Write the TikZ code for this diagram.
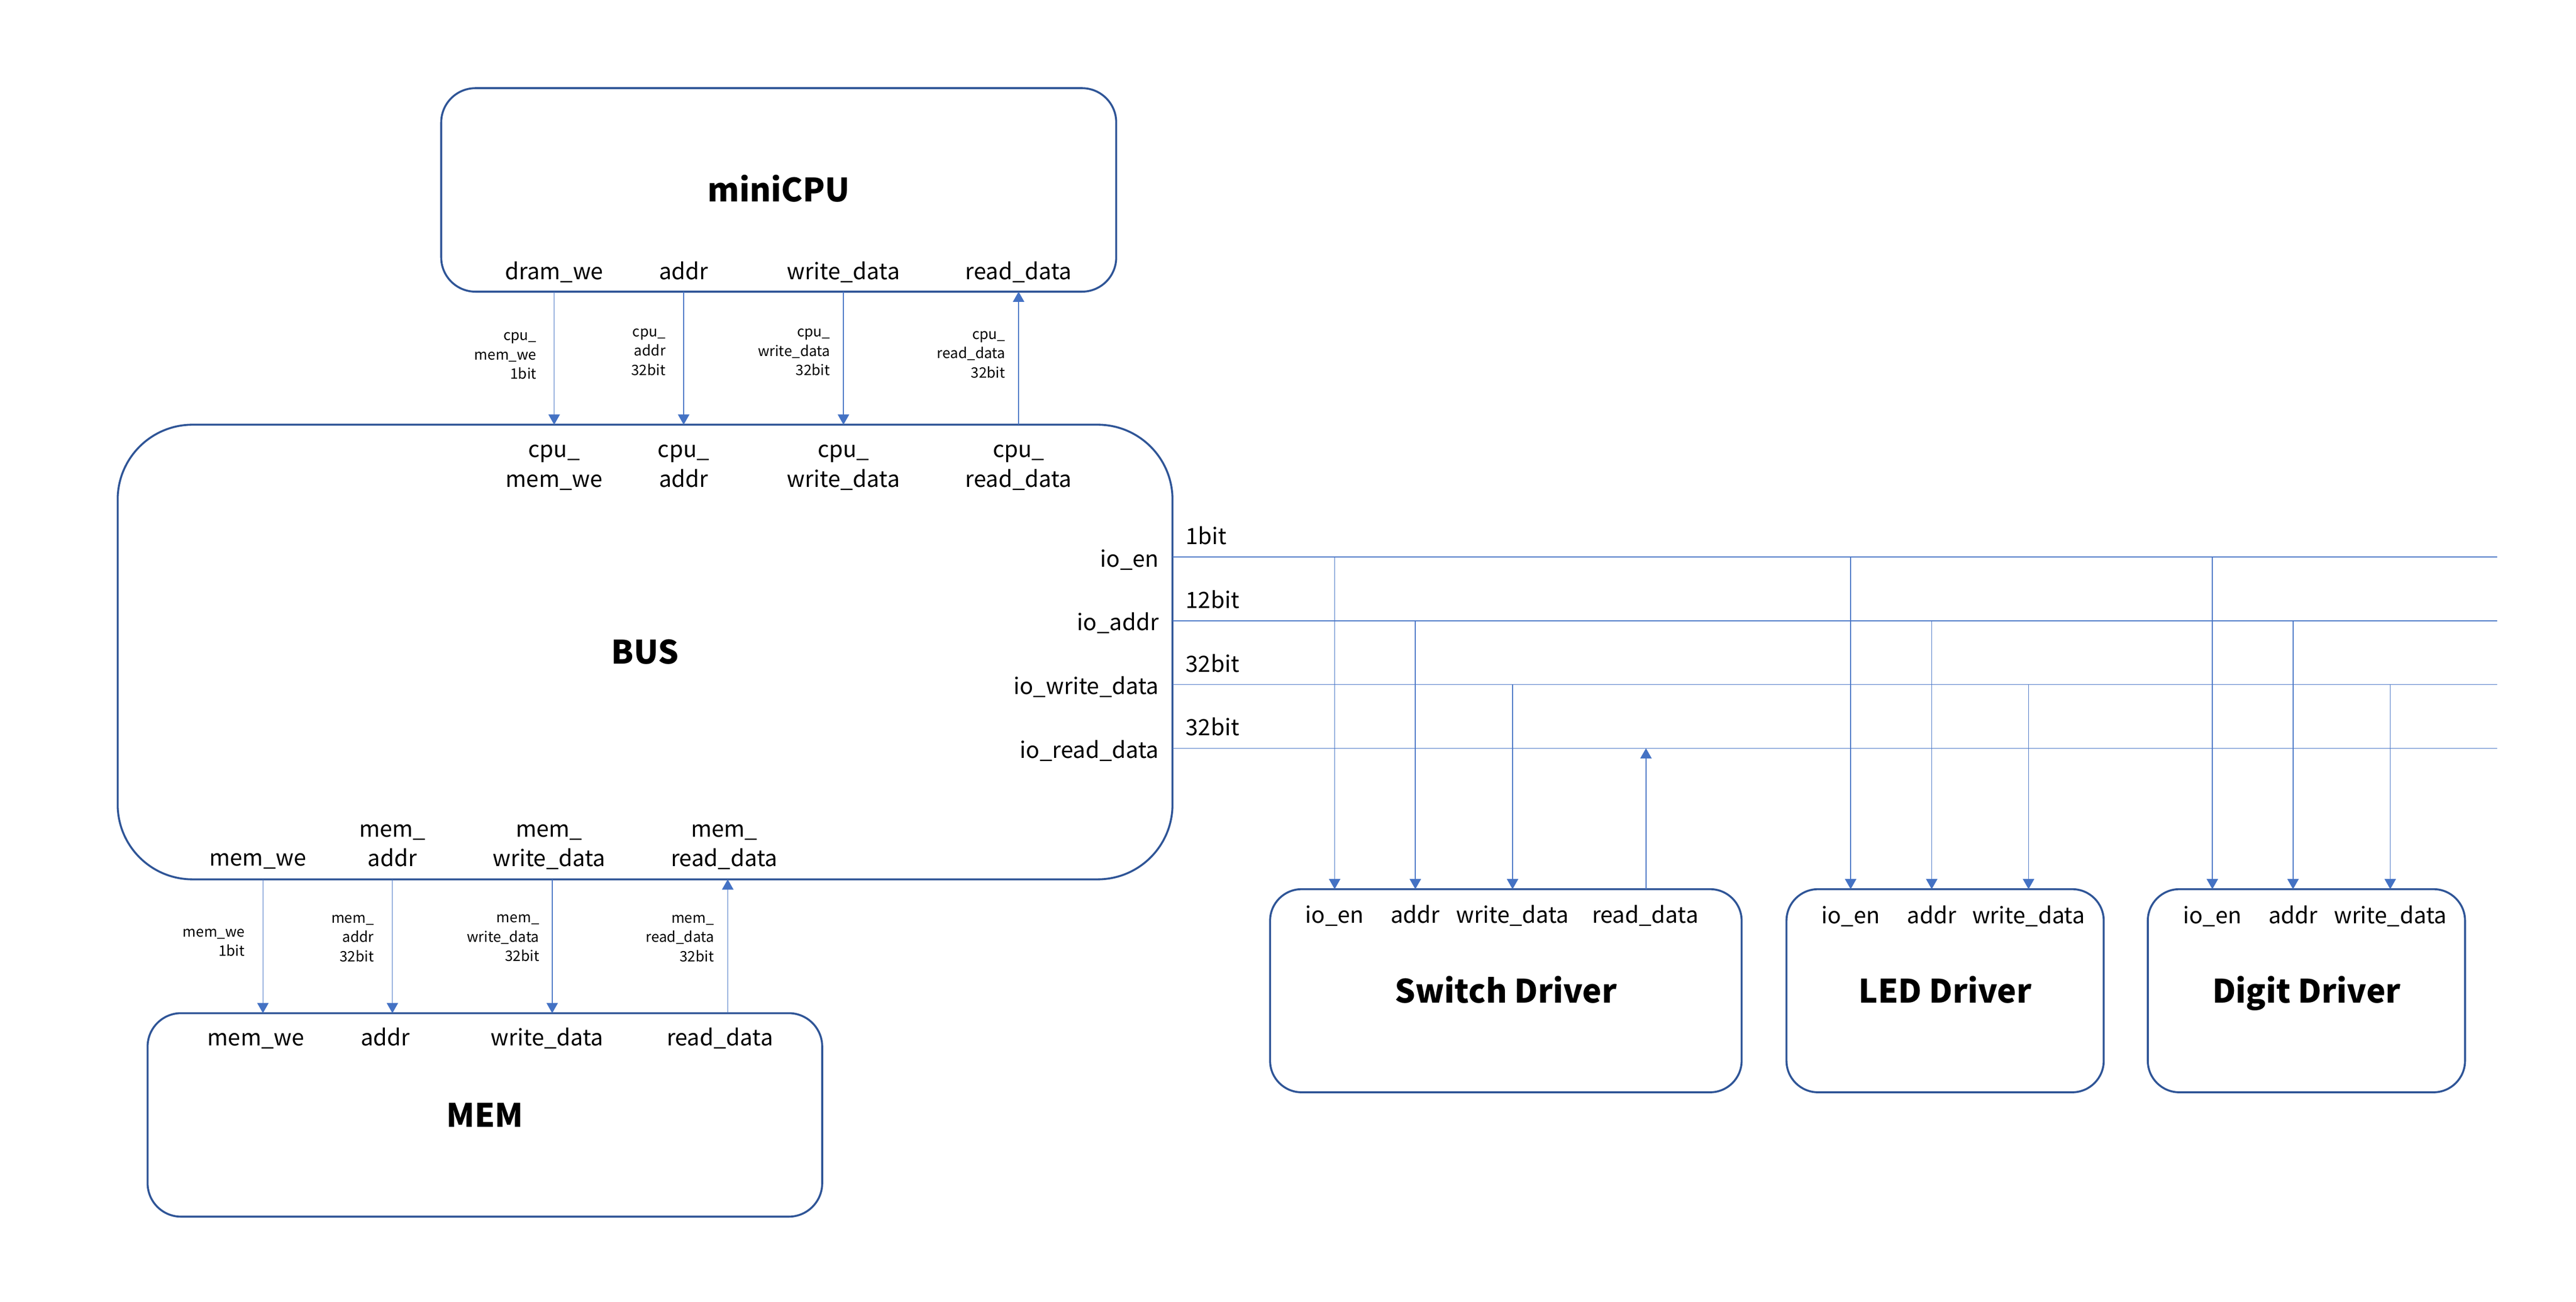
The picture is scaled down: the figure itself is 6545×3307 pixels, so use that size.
\documentclass[tikz,border=0pt]{standalone}
\usepackage{fontspec}
\setmainfont{Noto Sans CJK SC}
\usetikzlibrary{arrows.meta}
\definecolor{boxblue}{HTML}{2F5597}
\definecolor{linkblue}{HTML}{4472C4}
\newcommand\portfont{\fontsize{57}{75}\selectfont}
\newcommand\edgefont{\fontsize{36.5}{49}\selectfont}
\newcommand\titlefont{\fontsize{82}{100}\selectfont\bfseries}
\newcommand\mlc[1]{\begin{tabular}[t]{@{}c@{}}#1\end{tabular}}
\newcommand\mlr[1]{\begin{tabular}[t]{@{}r@{}}#1\end{tabular}}
\tikzset{
  blockbox/.style={draw=boxblue, line width=5pt, rounded corners=#1, inner sep=0pt, outer sep=0pt,
    font=\titlefont, text height=61pt, text depth=0pt, align=center},
  port/.style={font=\portfont, inner sep=0pt, outer sep=0pt, anchor=base},
  portr/.style={port, anchor=base east},
  portl/.style={port, anchor=base west},
  edgelab/.style={font=\edgefont, inner sep=0pt, outer sep=0pt, anchor=base east},
  wire/.style={draw=linkblue, line width=2pt},
  arr/.style={wire, -{Triangle[width=29pt,length=26pt]}},
}
\begin{document}
\begin{tikzpicture}[x=1pt,y=-1pt]
\useasboundingbox (0,0) rectangle (6545,3307);
% blocks
\node[blockbox=87, minimum width=1715pt, minimum height=517pt] (cpu) at (1978.5,482.5) {miniCPU};
\node[blockbox=190, minimum width=2680pt, minimum height=1155pt] (bus) at (1639,1656.5) {BUS};
\node[blockbox=85, minimum width=1714pt, minimum height=517pt] (mem) at (1232,2832.5) {MEM};
\node[blockbox=80, minimum width=1198pt, minimum height=516pt] (sw) at (3826,2517) {Switch Driver};
\node[blockbox=80, minimum width=806pt, minimum height=516pt] (led) at (4942,2517) {LED Driver};
\node[blockbox=80, minimum width=806pt, minimum height=516pt] (dig) at (5860,2517) {Digit Driver};

% x positions of the vertical connectors
\coordinate (xA) at (1408,0);
\coordinate (xB) at (1737,0);
\coordinate (xC) at (2143,0);
\coordinate (xD) at (2588,0);
\coordinate (xE) at (668,0);
\coordinate (xF) at (997,0);
\coordinate (xG) at (1403,0);
\coordinate (xH) at (1849,0);
\coordinate (xS1) at (3391,0);
\coordinate (xS2) at (3596,0);
\coordinate (xS3) at (3843,0);
\coordinate (xS4) at (4182,0);
\coordinate (xL1) at (4702,0);
\coordinate (xL2) at (4908,0);
\coordinate (xL3) at (5154,0);
\coordinate (xD1) at (5621,0);
\coordinate (xD2) at (5826,0);
\coordinate (xD3) at (6073,0);
\coordinate (endX) at (6345,0);
\coordinate (yEn) at (0,1415);
\coordinate (yAd) at (0,1577);
\coordinate (yWr) at (0,1739);
\coordinate (yRd) at (0,1901);

% miniCPU ports
\node[port] (cpuP1) at (1408,710) {dram\_we};
\node[port] (cpuP2) at (1737,710) {addr};
\node[port] (cpuP3) at (2143,710) {write\_data};
\node[port] (cpuP4) at (2588,710) {read\_data};

% BUS top ports
\node[port] (busT1) at (1408,1162) {\mlc{cpu\_\\mem\_we}};
\node[port] (busT2) at (1737,1162) {\mlc{cpu\_\\addr}};
\node[port] (busT3) at (2143,1162) {\mlc{cpu\_\\write\_data}};
\node[port] (busT4) at (2588,1162) {\mlc{cpu\_\\read\_data}};

% BUS right ports
\node[portr] (busR1) at (2944,1440) {io\_en};
\node[portr] (busR2) at (2944,1602) {io\_addr};
\node[portr] (busR3) at (2944,1764) {io\_write\_data};
\node[portr] (busR4) at (2944,1926) {io\_read\_data};

% bit widths of io lines
\node[portl] (bw1) at (3013,1383) {1bit};
\node[portl] (bw2) at (3013,1545) {12bit};
\node[portl] (bw3) at (3013,1707) {32bit};
\node[portl] (bw4) at (3013,1869) {32bit};

% BUS bottom ports
\node[port] (busB1) at (655,2200) {mem\_we};
\node[port] (busB2) at (997,2126) {\mlc{mem\_\\addr}};
\node[port] (busB3) at (1395,2126) {\mlc{mem\_\\write\_data}};
\node[port] (busB4) at (1840,2126) {\mlc{mem\_\\read\_data}};

% MEM ports
\node[port] (memP1) at (650,2657) {mem\_we};
\node[port] (memP2) at (979,2657) {addr};
\node[port] (memP3) at (1390,2657) {write\_data};
\node[port] (memP4) at (1829,2657) {read\_data};

% drivers ports
\node[port] (swP1) at (3391,2345) {io\_en};
\node[port] (swP2) at (3596,2345) {addr};
\node[port] (swP3) at (3843,2345) {write\_data};
\node[port] (swP4) at (4180,2345) {read\_data};
\node[port] (ledP1) at (4702,2347) {io\_en};
\node[port] (ledP2) at (4908,2347) {addr};
\node[port] (ledP3) at (5154,2347) {write\_data};
\node[port] (digP1) at (5621,2347) {io\_en};
\node[port] (digP2) at (5826,2347) {addr};
\node[port] (digP3) at (6073,2347) {write\_data};

% edge labels
\node[edgelab] (e1) at (1363,865) {\mlr{cpu\_\\mem\_we\\1bit}};
\node[edgelab] (e2) at (1691,855) {\mlr{cpu\_\\addr\\32bit}};
\node[edgelab] (e3) at (2109,856) {\mlr{cpu\_\\write\_data\\32bit}};
\node[edgelab] (e4) at (2554,862) {\mlr{cpu\_\\read\_data\\32bit}};
\node[edgelab] (e5) at (622,2380) {\mlr{mem\_we\\1bit}};
\node[edgelab] (e6) at (950,2345) {\mlr{mem\_\\addr\\32bit}};
\node[edgelab] (e7) at (1370,2344) {\mlr{mem\_\\write\_data\\32bit}};
\node[edgelab] (e8) at (1814,2345) {\mlr{mem\_\\read\_data\\32bit}};

% miniCPU <-> BUS
\draw[arr] (cpu.south -| xA) -- (bus.north -| xA);
\draw[arr] (cpu.south -| xB) -- (bus.north -| xB);
\draw[arr] (cpu.south -| xC) -- (bus.north -| xC);
\draw[arr] (bus.north -| xD) -- (cpu.south -| xD);

% BUS <-> MEM
\draw[arr] (bus.south -| xE) -- (mem.north -| xE);
\draw[arr] (bus.south -| xF) -- (mem.north -| xF);
\draw[arr] (bus.south -| xG) -- (mem.north -| xG);
\draw[arr] (mem.north -| xH) -- (bus.south -| xH);

% io bus lines
\draw[wire] (bus.east |- yEn) -- (endX |- yEn);
\draw[wire] (bus.east |- yAd) -- (endX |- yAd);
\draw[wire] (bus.east |- yWr) -- (endX |- yWr);
\draw[wire] (bus.east |- yRd) -- (endX |- yRd);

% drops to drivers
\draw[arr] (xS1 |- yEn) -- (sw.north -| xS1);
\draw[arr] (xS2 |- yAd) -- (sw.north -| xS2);
\draw[arr] (xS3 |- yWr) -- (sw.north -| xS3);
\draw[arr] (sw.north -| xS4) -- (xS4 |- yRd);
\draw[arr] (xL1 |- yEn) -- (led.north -| xL1);
\draw[arr] (xL2 |- yAd) -- (led.north -| xL2);
\draw[arr] (xL3 |- yWr) -- (led.north -| xL3);
\draw[arr] (xD1 |- yEn) -- (dig.north -| xD1);
\draw[arr] (xD2 |- yAd) -- (dig.north -| xD2);
\draw[arr] (xD3 |- yWr) -- (dig.north -| xD3);
\end{tikzpicture}
\end{document}
